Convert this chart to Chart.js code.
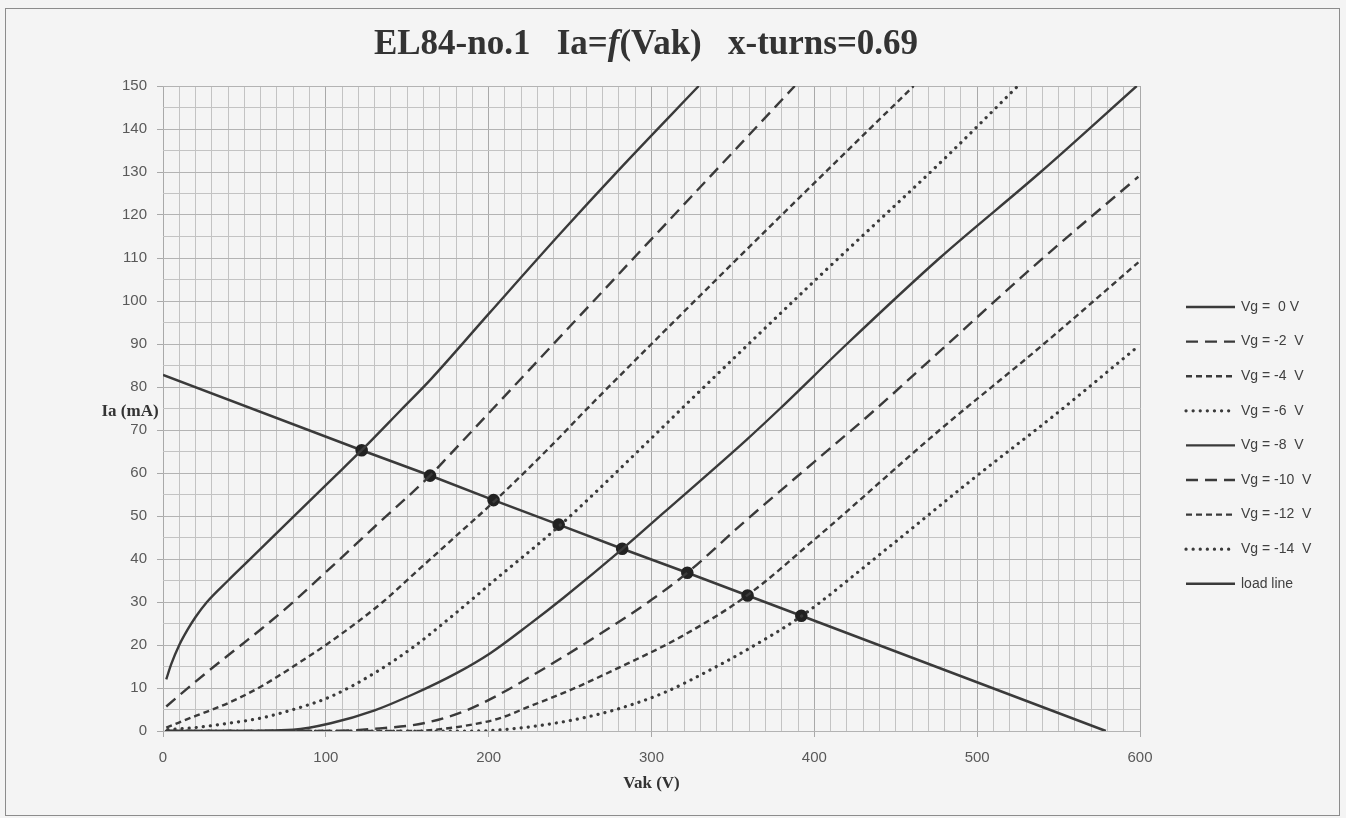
<!DOCTYPE html>
<html>
<head>
<meta charset="utf-8">
<script src="https://cdn.jsdelivr.net/npm/chart.js@4/dist/chart.umd.min.js"></script>
<style>
  html, body { margin: 0; padding: 0; background: #f4f4f4; }
  #wrap { position: relative; width: 1346px; height: 818px; overflow: hidden; }
  #frame { position: absolute; left: 5px; top: 8px; width: 1333px; height: 806px; border: 1px solid #8c8c8c; }
  #chart { position: absolute; left: 0; top: 0; }
</style>
</head>
<body>
<div id="wrap">
  <div id="frame"></div>
  <canvas id="chart" width="1346" height="818"></canvas>
</div>
<script>
// [Vak (V), Ia (mA)]
const vg0 = [[2,12],[5,15.5],[10,20],[15,23.5],[20,26.5],[27,30],[40,35],[53,39.8],[80,49.8],[103,58.3],[122,65.3],[146,74.6],[164,81.6],[200,97],[244,115.7],[280,130.5],[329,150]];
const vg2 = [[2,5.7],[20,11.5],[47,19.7],[60,23.6],[80,30],[103,38],[130,47.5],[164,59.4],[176,64.2],[201,74.3],[243,91.3],[300,114.4],[350,134.6],[388,150]];
const vg4 = [[2,0.8],[20,3.5],[40,6.5],[60,10.3],[80,15],[103,20.8],[135,30],[154,36.5],[176,44],[204,53.6],[242,67.7],[258,74],[300,90],[381,120.4],[461,150]];
const vg6 = [[3,0.3],[20,0.8],[40,1.8],[60,3],[80,5],[103,8],[130,13.5],[154,19.6],[180,27.5],[205,35.5],[244,47.9],[297,67],[320,75.5],[401,105],[481,133.5],[525,150]];
const vg8 = [[2,0],[40,0],[80,0.3],[103,1.8],[130,4.8],[154,8.6],[180,13.4],[201,18.1],[225,24.8],[246,31],[282,42.3],[307,50.6],[358,67.6],[379,75],[420,90],[477,110],[539,130],[598,150]];
const vg10 = [[2,0],[100,0],[133,0.6],[160,1.8],[185,4.6],[205,8.2],[225,12.5],[266,22],[300,30.5],[322,36.8],[356,48.3],[400,62.6],[437,74.6],[479,89],[539,109.5],[599,128.9]];
const vg12 = [[2,0],[150,0],[164,0.2],[190,1.5],[207,3],[225,5.7],[250,9.5],[277,14.2],[318,21.9],[359,31.6],[400,44.5],[477,70],[539,89.4],[599,109]];
const vg14 = [[2,0],[190,0],[205,0.2],[230,1.2],[256,2.9],[280,5.2],[307,8.8],[340,15],[360,19.2],[392,26.7],[440,41],[498,58.8],[549,73.9],[599,89.5]];
const loadLine = [[0,82.8],[122,65.3],[164,59.4],[203,53.7],[243,48],[282,42.4],[322,36.8],[359,31.5],[392,26.8],[579,0]];
const loadMarks = [0,5,5,5,5,5,5,5,5,0];

const seriesNames = ['Vg =  0 V','Vg = -2  V','Vg = -4  V','Vg = -6  V','Vg = -8  V','Vg = -10  V','Vg = -12  V','Vg = -14  V','load line'];
const xTicks = [0,100,200,300,400,500,600];
const yTicks = [0,10,20,30,40,50,60,70,80,90,100,110,120,130,140,150];

const ink = '#3a3a3a';
const solid = [], longDash = [12,7], shortDash = [6,4], dots = [0.1,7];

function curve(label, data, dash) {
  const round = dash === dots;
  return {
    label, data,
    borderColor: ink,
    borderWidth: round ? 3.2 : 2.4,
    borderDash: dash,
    borderCapStyle: round ? 'round' : 'butt',
    pointRadius: 0,
    cubicInterpolationMode: 'monotone',
    fill: false
  };
}

const datasets = [
  curve(seriesNames[0], vg0, solid),
  curve(seriesNames[1], vg2, longDash),
  curve(seriesNames[2], vg4, shortDash),
  curve(seriesNames[3], vg6, dots),
  curve(seriesNames[4], vg8, solid),
  curve(seriesNames[5], vg10, longDash),
  curve(seriesNames[6], vg12, shortDash),
  curve(seriesNames[7], vg14, dots),
  {
    label: seriesNames[8], data: loadLine,
    borderColor: ink, borderWidth: 2.6, borderDash: solid,
    pointRadius: loadMarks, pointBackgroundColor: '#222', pointBorderColor: '#222',
    tension: 0, fill: false
  }
];

// title + axis titles drawn on canvas (title has italic f)
const textPlugin = {
  id: 'texts',
  afterDraw(chart) {
    const ctx = chart.ctx, a = chart.chartArea;
    ctx.save();
    ctx.fillStyle = '#333';
    ctx.textBaseline = 'middle';
    const parts = [
      ['bold 35px "Liberation Serif"', 'EL84-no.1   Ia='],
      ['italic bold 35px "Liberation Serif"', 'f'],
      ['bold 35px "Liberation Serif"', '(Vak)   x-turns=0.69']
    ];
    let w = 0;
    parts.forEach(p => { ctx.font = p[0]; w += ctx.measureText(p[1]).width; });
    let x = 646 - w / 2;
    ctx.textAlign = 'left';
    parts.forEach(p => { ctx.font = p[0]; ctx.fillText(p[1], x, 45); x += ctx.measureText(p[1]).width; });

    ctx.font = 'bold 17px "Liberation Serif"';
    ctx.textAlign = 'center';
    ctx.fillText('Ia (mA)', 130, 412);
    ctx.fillText('Vak (V)', (a.left + a.right) / 2, 784);
    ctx.restore();
  }
};

// legend with line samples at the right
const legendPlugin = {
  id: 'lineLegend',
  afterDraw(chart) {
    const ctx = chart.ctx, a = chart.chartArea;
    chart.data.datasets.forEach((ds, i) => {
      const y = a.top + 221 + i * 34.6;
      ctx.save();
      ctx.strokeStyle = ds.borderColor;
      ctx.lineWidth = ds.borderWidth;
      ctx.lineCap = ds.borderCapStyle || 'butt';
      ctx.setLineDash(ds.borderDash || []);
      ctx.beginPath();
      ctx.moveTo(a.right + 46, y);
      ctx.lineTo(a.right + 95, y);
      ctx.stroke();
      ctx.setLineDash([]);
      ctx.fillStyle = '#404040';
      ctx.font = '14px "Liberation Sans"';
      ctx.textBaseline = 'middle';
      ctx.textAlign = 'left';
      ctx.fillText(ds.label, a.right + 101, y);
      ctx.restore();
    });
  }
};

new Chart(document.getElementById('chart'), {
  type: 'line',
  data: { datasets },
  plugins: [textPlugin, legendPlugin],
  options: {
    responsive: false,
    animation: false,
    devicePixelRatio: 1,
    layout: { padding: { left: 0, right: 206, top: 86, bottom: 0 } },
    plugins: { legend: { display: false }, tooltip: { enabled: false }, title: { display: false } },
    scales: {
      x: {
        type: 'linear', min: 0, max: 600,
        afterFit: s => { s.height = 87; },
        afterBuildTicks: s => { s.ticks = []; for (let v = 0; v <= 600; v += 10) s.ticks.push({ value: v }); },
        ticks: {
          autoSkip: false, maxRotation: 0, padding: 12, color: '#595959',
          font: { family: 'Liberation Sans', size: 15 },
          callback: v => xTicks.includes(v) ? String(v) : ''
        },
        grid: {
          color: c => (c.tick && c.tick.value % 100 === 0) ? '#a9a9a9' : '#c3c3c3',
          tickColor: c => (c.tick && c.tick.value % 100 === 0) ? '#a9a9a9' : 'rgba(0,0,0,0)',
          tickLength: 6, lineWidth: 1
        },
        border: { display: false }
      },
      y: {
        type: 'linear', min: 0, max: 150,
        afterFit: s => { s.width = 163; },
        afterBuildTicks: s => { s.ticks = []; for (let v = 0; v <= 150; v += 5) s.ticks.push({ value: v }); },
        ticks: {
          autoSkip: false, padding: 10, color: '#595959',
          font: { family: 'Liberation Sans', size: 15 },
          callback: v => yTicks.includes(v) ? String(v) : ''
        },
        grid: {
          color: c => (c.tick && c.tick.value % 10 === 0) ? '#b3b3b3' : '#c3c3c3',
          tickColor: c => (c.tick && c.tick.value % 10 === 0) ? '#a9a9a9' : 'rgba(0,0,0,0)',
          tickLength: 6, lineWidth: 1
        },
        border: { display: false }
      }
    }
  }
});
</script>
</body>
</html>
